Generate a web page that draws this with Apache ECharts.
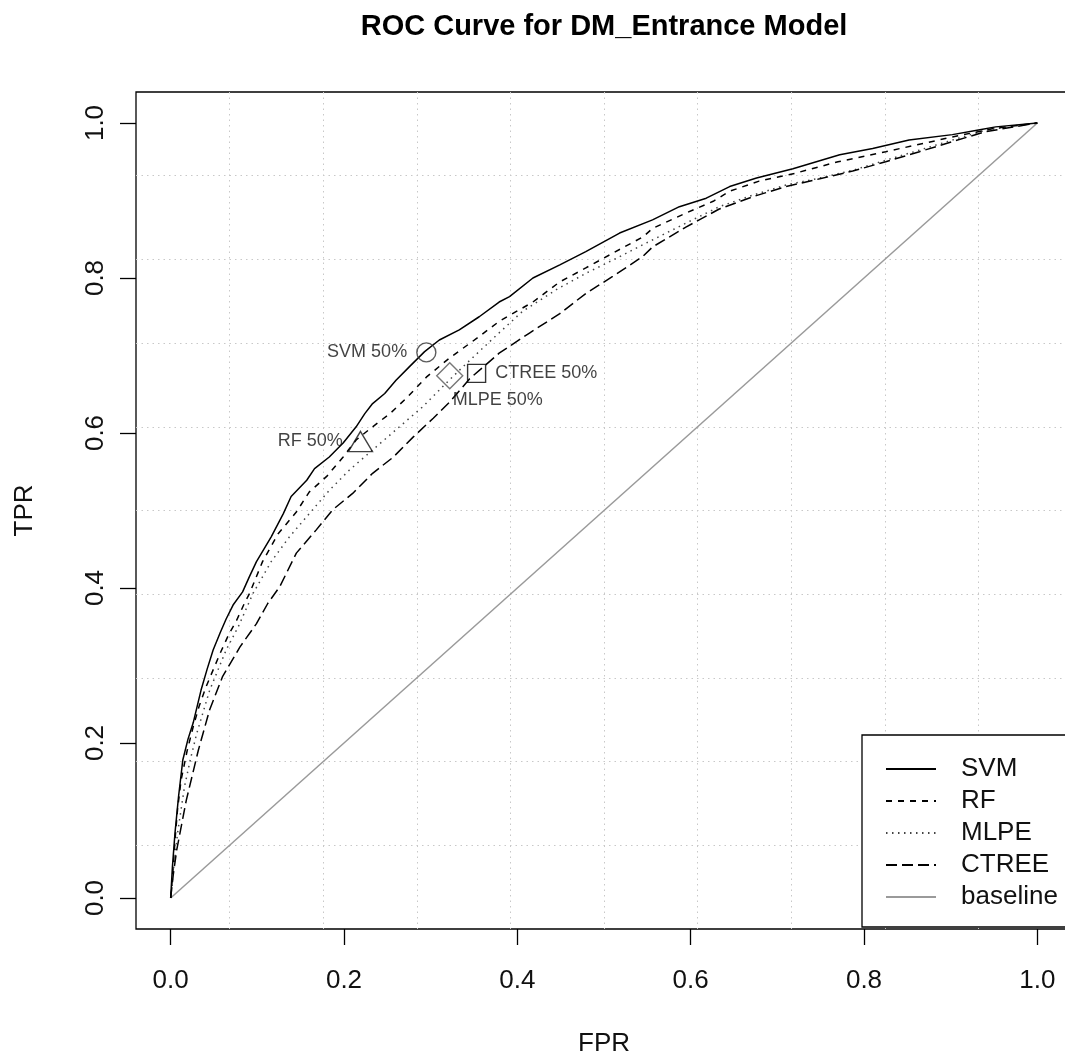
<!DOCTYPE html>
<html>
<head>
<meta charset="utf-8">
<script src="https://cdn.jsdelivr.net/npm/echarts@6/dist/echarts.min.js"></script>
<style>
  html, body { margin: 0; padding: 0; background: #fff; }
  #main { width: 1065px; height: 1062px; }
</style>
</head>
<body>
<div id="main"></div>
<script>
// ROC curves (FPR, TPR)
var svmFpr = [0, 0.002, 0.005, 0.009, 0.014, 0.020, 0.026, 0.035, 0.042, 0.049, 0.057, 0.064, 0.072, 0.083, 0.091, 0.099, 0.116, 0.130, 0.139, 0.157, 0.166, 0.183, 0.199, 0.214, 0.224, 0.233, 0.247, 0.260, 0.275, 0.293, 0.310, 0.333, 0.356, 0.379, 0.391, 0.418, 0.449, 0.479, 0.518, 0.556, 0.587, 0.618, 0.645, 0.676, 0.718, 0.772, 0.810, 0.852, 0.902, 0.932, 0.952, 1];
var svmTpr = [0, 0.040, 0.084, 0.130, 0.178, 0.205, 0.226, 0.268, 0.295, 0.320, 0.342, 0.360, 0.378, 0.395, 0.415, 0.434, 0.466, 0.496, 0.518, 0.539, 0.554, 0.569, 0.587, 0.608, 0.625, 0.638, 0.651, 0.668, 0.685, 0.705, 0.720, 0.733, 0.750, 0.769, 0.776, 0.800, 0.817, 0.834, 0.858, 0.875, 0.892, 0.903, 0.918, 0.929, 0.941, 0.959, 0.967, 0.978, 0.985, 0.991, 0.995, 1];

var rfFpr = [0, 0.003, 0.005, 0.008, 0.012, 0.019, 0.026, 0.033, 0.041, 0.050, 0.058, 0.067, 0.076, 0.085, 0.091, 0.106, 0.124, 0.145, 0.160, 0.180, 0.199, 0.214, 0.233, 0.253, 0.272, 0.295, 0.322, 0.353, 0.379, 0.418, 0.449, 0.479, 0.510, 0.545, 0.556, 0.595, 0.626, 0.645, 0.679, 0.720, 0.770, 0.825, 0.870, 0.902, 0.950, 1];
var rfTpr = [0, 0.040, 0.075, 0.115, 0.152, 0.190, 0.221, 0.248, 0.273, 0.297, 0.318, 0.340, 0.358, 0.380, 0.393, 0.434, 0.470, 0.498, 0.524, 0.544, 0.569, 0.591, 0.608, 0.625, 0.645, 0.672, 0.697, 0.722, 0.744, 0.769, 0.795, 0.813, 0.832, 0.853, 0.864, 0.884, 0.899, 0.912, 0.925, 0.935, 0.950, 0.963, 0.974, 0.982, 0.993, 1];

var mlpeFpr = [0, 0.003, 0.008, 0.016, 0.023, 0.030, 0.045, 0.064, 0.078, 0.095, 0.116, 0.137, 0.160, 0.183, 0.206, 0.237, 0.264, 0.291, 0.314, 0.335, 0.372, 0.406, 0.445, 0.479, 0.510, 0.545, 0.595, 0.633, 0.672, 0.710, 0.749, 0.787, 0.825, 0.864, 0.902, 0.941, 1];
var mlpeTpr = [0, 0.035, 0.084, 0.144, 0.180, 0.212, 0.268, 0.320, 0.350, 0.393, 0.434, 0.466, 0.496, 0.526, 0.552, 0.582, 0.608, 0.634, 0.660, 0.683, 0.722, 0.757, 0.785, 0.806, 0.823, 0.843, 0.871, 0.892, 0.907, 0.920, 0.929, 0.939, 0.952, 0.965, 0.978, 0.991, 1];

var ctreeFpr = [0, 0.003, 0.007, 0.018, 0.032, 0.045, 0.060, 0.080, 0.099, 0.112, 0.126, 0.145, 0.168, 0.187, 0.210, 0.233, 0.257, 0.280, 0.303, 0.322, 0.345, 0.379, 0.414, 0.449, 0.479, 0.510, 0.545, 0.556, 0.595, 0.633, 0.672, 0.710, 0.749, 0.787, 0.825, 0.864, 0.902, 0.941, 1];
var ctreeTpr = [0, 0.030, 0.062, 0.126, 0.191, 0.243, 0.286, 0.324, 0.354, 0.380, 0.402, 0.445, 0.475, 0.501, 0.522, 0.548, 0.569, 0.595, 0.619, 0.640, 0.670, 0.703, 0.729, 0.754, 0.780, 0.802, 0.828, 0.840, 0.866, 0.889, 0.905, 0.918, 0.928, 0.938, 0.950, 0.963, 0.976, 0.989, 1];

var baseFpr = [0, 1];
var baseTpr = [0, 1];

// 50% cutoff points
var cutNames = ['SVM 50%', 'RF 50%', 'MLPE 50%', 'CTREE 50%'];
var cutFpr = [0.295, 0.219, 0.322, 0.353];
var cutTpr = [0.704, 0.589, 0.674, 0.677];

var xTicks = [0, 0.2, 0.4, 0.6, 0.8, 1.0];
var yTicks = [0, 0.2, 0.4, 0.6, 0.8, 1.0];

function pairs(xs, ys) {
  var out = [];
  for (var i = 0; i < xs.length; i++) {
    out.push([xs[i], ys[i]]);
  }
  return out;
}

var FONT = 'Liberation Sans, Arial, sans-serif';

// marker look per cutoff point
var cutStyle = [
  { symbol: 'circle', size: 19, border: '#333', label: { position: 'left', distance: 9 } },
  { symbol: 'triangle', size: [24, 20], border: '#111', label: { position: 'left', distance: 5 } },
  { symbol: 'diamond', size: [26, 26], border: '#555', label: { position: 'bottom', distance: 2, offset: [48, 0] } },
  { symbol: 'rect', size: 18, border: '#000', label: { position: 'right', distance: 9 } }
];

var cutData = cutNames.map(function (n, i) {
  var s = cutStyle[i];
  return {
    name: n,
    value: [cutFpr[i], cutTpr[i]],
    symbol: s.symbol,
    symbolSize: s.size,
    itemStyle: { color: 'rgba(0,0,0,0)', borderColor: s.border, borderWidth: 1.4 },
    label: Object.assign({ show: true, formatter: n }, s.label)
  };
});

function gridAxis(pos) {
  return {
    type: 'value', position: pos, min: -0.04, max: 1.04, interval: 0.108,
    axisLine: { show: false, onZero: false }, axisTick: { show: false }, axisLabel: { show: false },
    splitLine: {
      show: true, showMinLine: false, showMaxLine: false,
      lineStyle: { color: '#c8c8c8', type: [1.5, 4], width: 1 }
    }
  };
}

var chart = echarts.init(document.getElementById('main'));

chart.setOption({
  animation: false,
  backgroundColor: '#fff',
  title: {
    text: 'ROC Curve for DM_Entrance Model',
    left: 599, top: 7, textAlign: 'center',
    textStyle: { fontFamily: FONT, fontSize: 29, fontWeight: 'bold', color: '#000' }
  },
  grid: {
    left: 136, right: -7, top: 92, bottom: 133,
    outerBoundsMode: 'none',
    show: true, borderColor: '#000', borderWidth: 1.3, backgroundColor: 'rgba(0,0,0,0)'
  },
  legend: {
    data: ['SVM', 'RF', 'MLPE', 'CTREE', 'baseline'],
    orient: 'vertical',
    left: 862, top: 735,
    padding: [21, 40, 17, 23],
    itemWidth: 50, itemHeight: 24, itemGap: 6,
    borderColor: '#000', borderWidth: 1.3, backgroundColor: '#fff',
    selectedMode: false,
    itemStyle: { opacity: 0 },
    lineStyle: { width: 2 },
    textStyle: { fontFamily: FONT, fontSize: 26, color: '#111', padding: [0, 0, 0, 20] }
  },
  xAxis: [
    {
      type: 'value', position: 'bottom', min: -0.04, max: 1.04,
      name: 'FPR', nameLocation: 'middle', nameGap: 102,
      nameTextStyle: { fontFamily: FONT, fontSize: 26, color: '#111' },
      axisLine: { show: false, onZero: false },
      axisTick: { show: true, inside: false, length: 16, customValues: xTicks, lineStyle: { color: '#000', width: 1.3 } },
      axisLabel: {
        customValues: xTicks, margin: 39, fontFamily: FONT, fontSize: 26, color: '#111',
        formatter: function (v) { return v.toFixed(1); }
      },
      splitLine: { show: false }
    },
    gridAxis('bottom')
  ],
  yAxis: [
    {
      type: 'value', position: 'left', min: -0.04, max: 1.04,
      name: 'TPR', nameLocation: 'middle', nameGap: 98,
      nameTextStyle: { fontFamily: FONT, fontSize: 26, color: '#111' },
      axisLine: { show: false, onZero: false },
      axisTick: { show: true, inside: false, length: 16, customValues: yTicks, lineStyle: { color: '#000', width: 1.3 } },
      axisLabel: {
        customValues: yTicks, margin: 27, rotate: 90, fontFamily: FONT, fontSize: 26, color: '#111',
        formatter: function (v) { return v.toFixed(1); }
      },
      splitLine: { show: false }
    },
    gridAxis('left')
  ],
  series: [
    {
      name: 'SVM', type: 'line', data: pairs(svmFpr, svmTpr), showSymbol: false, symbol: 'none',
      lineStyle: { color: '#000', width: 1.5, type: 'solid' }, itemStyle: { color: '#000' }, z: 5
    },
    {
      name: 'RF', type: 'line', data: pairs(rfFpr, rfTpr), showSymbol: false, symbol: 'none',
      lineStyle: { color: '#000', width: 1.5, type: [6, 6] }, itemStyle: { color: '#000' }, z: 4
    },
    {
      name: 'MLPE', type: 'line', data: pairs(mlpeFpr, mlpeTpr), showSymbol: false, symbol: 'none',
      lineStyle: { color: '#444', width: 1.5, type: [1.5, 4.5] }, itemStyle: { color: '#444' }, z: 3
    },
    {
      name: 'CTREE', type: 'line', data: pairs(ctreeFpr, ctreeTpr), showSymbol: false, symbol: 'none',
      lineStyle: { color: '#000', width: 1.5, type: [11, 5] }, itemStyle: { color: '#000' }, z: 3
    },
    {
      name: 'baseline', type: 'line', data: pairs(baseFpr, baseTpr), showSymbol: false, symbol: 'none',
      lineStyle: { color: '#9a9a9a', width: 1.5 }, itemStyle: { color: '#9a9a9a' }, z: 2
    },
    {
      name: 'cutoff', type: 'scatter', data: cutData, z: 6,
      label: { fontFamily: FONT, fontSize: 18, color: '#111' }
    }
  ]
});
</script>
</body>
</html>
